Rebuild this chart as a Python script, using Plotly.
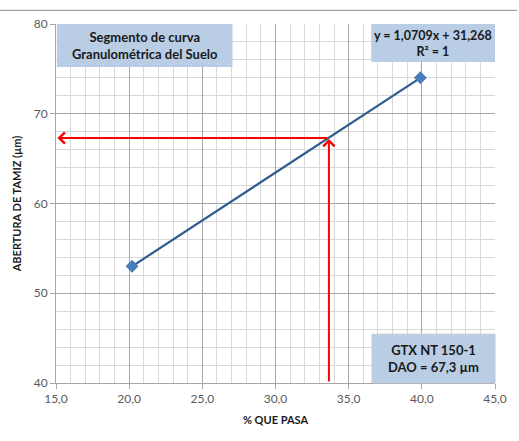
import plotly.graph_objects as go

# Data
x_pts = [20.2, 39.9]
y_pts = [53.0, 74.0]
dao_x = 33.65
dao_y = 67.3
x_range = [15, 45]
y_range = [40, 80]
x_ticks = [15, 20, 25, 30, 35, 40, 45]
x_tick_labels = ["15,0", "20,0", "25,0", "30,0", "35,0", "40,0", "45,0"]
y_ticks = [40, 50, 60, 70, 80]

FONT = "Lato"
BOXC = "#B9CDE5"

fig = go.Figure()

fig.add_trace(go.Scatter(
    x=x_pts, y=y_pts, mode="lines+markers",
    line=dict(color="#2F5C8E", width=2.2),
    marker=dict(symbol="diamond", size=10, color="#4A7EBB"),
    showlegend=False, hoverinfo="skip"))

# red arrows
fig.add_annotation(x=x_range[0] + 0.1, y=dao_y, ax=dao_x, ay=dao_y,
                   xref="x", yref="y", axref="x", ayref="y",
                   showarrow=True, arrowhead=4, arrowsize=1.1, arrowwidth=2,
                   arrowcolor="#FF0000", text="")
fig.add_annotation(x=dao_x, y=dao_y - 0.1, ax=dao_x, ay=y_range[0],
                   xref="x", yref="y", axref="x", ayref="y",
                   showarrow=True, arrowhead=4, arrowsize=1.1, arrowwidth=2,
                   arrowcolor="#FF0000", text="")

# text boxes
fig.add_shape(type="rect", xref="paper", yref="paper",
              x0=0.002, x1=0.402, y0=0.88, y1=1.0, fillcolor=BOXC, line_width=0, layer="above")
fig.add_annotation(xref="paper", yref="paper", x=0.202, y=0.94, xanchor="center", yanchor="middle",
                   text="<b>Segmento de curva<br>Granulométrica del Suelo</b>",
                   showarrow=False, font=dict(family=FONT, size=13, color="#1a1a1a"))

fig.add_shape(type="rect", xref="paper", yref="paper",
              x0=0.718, x1=1.0, y0=0.894, y1=1.0, fillcolor=BOXC, line_width=0, layer="above")
fig.add_annotation(xref="paper", yref="paper", x=0.859, y=0.947, xanchor="center", yanchor="middle",
                   text="<b>y = 1,0709x + 31,268<br>R² = 1</b>",
                   showarrow=False, font=dict(family=FONT, size=12.5, color="#1a1a1a"))

fig.add_shape(type="rect", xref="paper", yref="paper",
              x0=0.72, x1=1.0, y0=0.0, y1=0.136, fillcolor=BOXC,
              line=dict(color="#C0C8D4", width=1), layer="above")
fig.add_annotation(xref="paper", yref="paper", x=0.86, y=0.068, xanchor="center", yanchor="middle",
                   text="<b>GTX NT 150-1<br>DAO = 67,3 µm</b>",
                   showarrow=False, font=dict(family=FONT, size=13, color="#1a1a1a"))

# top border line of chart
fig.add_shape(type="line", xref="paper", yref="paper",
              x0=-0.13, x1=1.05, y0=1.038, y1=1.038, line=dict(color="#A0A0A0", width=1.2))

fig.update_xaxes(range=x_range, tickvals=x_ticks, ticktext=x_tick_labels,
                 showgrid=True, gridcolor="#A6A6A6", gridwidth=1,
                 minor=dict(dtick=1, showgrid=True, gridcolor="#D9D9D9", gridwidth=1),
                 showline=True, linecolor="#A6A6A6", ticks="outside", ticklen=5,
                 tickcolor="#A6A6A6", zeroline=False,
                 tickfont=dict(family=FONT, size=12, color="#595959"),
                 title=dict(text="<b>% QUE PASA</b>", font=dict(family=FONT, size=11, color="#1a1a1a"),
                            standoff=10))
fig.update_yaxes(range=y_range, tickvals=y_ticks,
                 showgrid=True, gridcolor="#A6A6A6", gridwidth=1,
                 minor=dict(dtick=2, showgrid=True, gridcolor="#D9D9D9", gridwidth=1),
                 showline=True, linecolor="#A6A6A6", ticks="outside", ticklen=5,
                 tickcolor="#A6A6A6", zeroline=False,
                 tickfont=dict(family=FONT, size=12, color="#595959"),
                 title=dict(text="<b>ABERTURA DE TAMIZ (µm)</b>", font=dict(family=FONT, size=11, color="#1a1a1a"),
                            standoff=9))

fig.update_layout(width=519, height=441, margin=dict(l=56, r=19, t=24, b=58),
                  plot_bgcolor="white", paper_bgcolor="white")

fig.write_html("out.html")
